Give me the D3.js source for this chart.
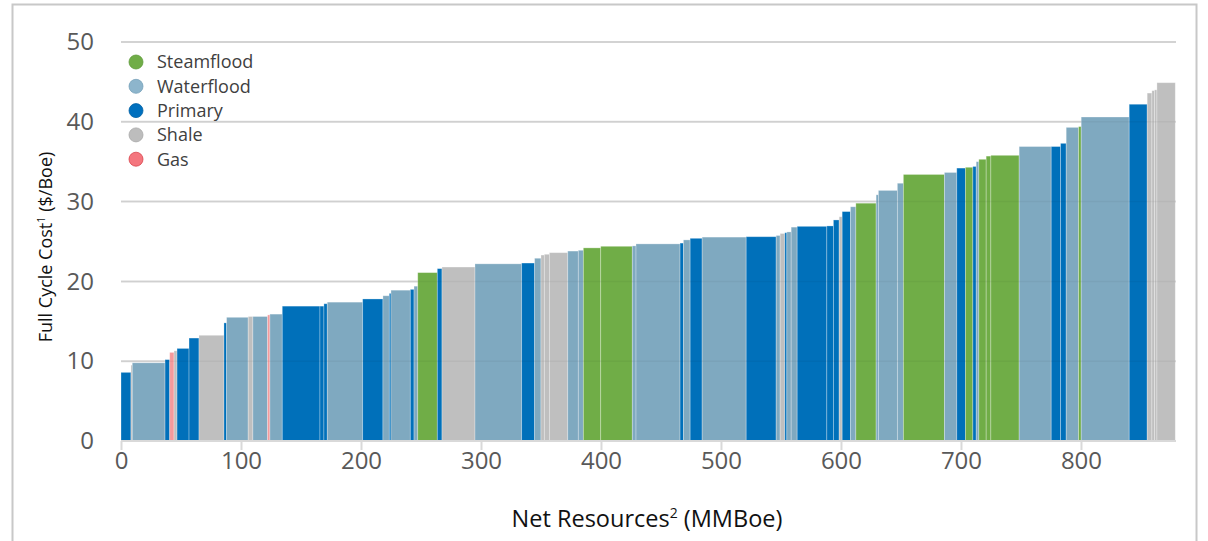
<!DOCTYPE html>
<html><head><meta charset="utf-8">
<script src="https://cdn.jsdelivr.net/npm/d3@7"></script>
<style>body{margin:0;background:#fff;} svg{display:block;font-family:"Open Sans",sans-serif;}</style>
</head><body>
<script>
const types = ["Primary","Shale","Waterflood","Primary","Gas","Shale","Primary","Primary","Shale","Primary",
"Waterflood","Shale","Waterflood","Gas","Waterflood","Primary","Primary","Primary","Waterflood","Primary",
"Waterflood","Primary","Waterflood","Primary","Waterflood","Steamflood","Primary","Shale","Waterflood","Primary",
"Waterflood","Shale","Shale","Shale","Waterflood","Waterflood","Steamflood","Steamflood","Waterflood","Waterflood",
"Primary","Waterflood","Primary","Waterflood","Primary","Waterflood","Shale","Primary","Waterflood","Waterflood",
"Primary","Primary","Primary","Shale","Primary","Waterflood","Steamflood","Waterflood","Waterflood","Waterflood",
"Steamflood","Waterflood","Primary","Steamflood","Primary","Waterflood","Steamflood","Steamflood","Steamflood","Waterflood",
"Primary","Primary","Waterflood","Steamflood","Waterflood","Primary","Shale","Shale","Shale","Shale"];
const widths = [8.3,1.1,27.3,3.9,3.6,2.5,10.0,8.3,20.8,2.2,
18.0,3.9,12.3,1.9,10.3,31.4,3.3,2.8,29.5,16.9,
5.3,1.4,16.1,3.1,3.1,16.3,3.9,27.5,38.9,10.8,
5.3,2.8,4.2,15.3,8.8,4.2,14.5,26.3,3.1,36.7,
2.8,5.6,10.0,36.7,25.0,3.3,3.9,1.7,3.6,5.0,
24.7,5.5,4.8,2.5,6.9,4.5,16.9,1.9,15.8,5.0,
34.2,10.3,7.2,6.2,2.8,2.2,6.1,3.9,23.6,26.7,
7.8,4.7,10.3,2.2,40.0,15.0,3.9,2.2,2.0,15.3];
const costs = [8.6,9.5,9.8,10.2,11.1,11.3,11.6,12.9,13.25,14.8,
15.5,15.6,15.6,15.8,15.9,16.9,16.9,17.2,17.4,17.8,
18.2,18.5,18.9,19.0,19.4,21.1,21.6,21.8,22.2,22.3,
22.9,23.3,23.4,23.6,23.8,23.9,24.2,24.4,24.45,24.7,
24.8,25.2,25.4,25.55,25.6,25.75,26.0,26.1,26.2,26.8,
26.9,26.95,27.7,28.1,28.75,29.35,29.8,30.85,31.4,32.3,
33.4,33.65,34.2,34.3,34.4,35.0,35.3,35.7,35.8,36.9,
36.9,37.3,39.3,39.4,40.6,42.2,43.6,43.9,44.0,44.9];
const legendNames = ["Steamflood","Waterflood","Primary","Shale","Gas"];
const xTicks = [0,100,200,300,400,500,600,700,800];
const yTicks = [0,10,20,30,40,50];

const colors = {Steamflood:"#70AD47",Waterflood:"#7FA9C0",Primary:"#0070BA",Shale:"#BFBFBF",Gas:"#F59A9C"};
const legendColors = {Steamflood:"#70AD47",Waterflood:"#8DB5CC",Primary:"#0070BE",Shale:"#BDBDBD",Gas:"#F4767E"};
const legendStroke = {Steamflood:"#5E9A3A",Waterflood:"#7AA3BB",Primary:"#005FA3",Shale:"#A8A8A8",Gas:"#D9474F"};

const W=1208,H=541;
const svg=d3.select("body").append("svg").attr("width",W).attr("height",H);
svg.append("rect").attr("x",12.5).attr("y",4.5).attr("width",1184).attr("height",560)
  .attr("fill","none").attr("stroke","#C8C8C8").attr("stroke-width",2);

const x=d3.scaleLinear().domain([0,879.2]).range([121,1176]);
const y=d3.scaleLinear().domain([0,50]).range([441,42]);

// gridlines
svg.append("g").selectAll("line").data(yTicks.filter(d=>d>0)).join("line")
  .attr("x1",121).attr("x2",1176).attr("y1",d=>y(d)).attr("y2",d=>y(d))
  .attr("stroke","#D9D9D9").attr("stroke-width",2);

const starts=[];let acc=0;widths.forEach(w=>{starts.push(acc);acc+=w;});
const bars=types.map((t,i)=>({t,s:starts[i],w:widths[i],c:costs[i]}));
svg.append("g").selectAll("rect").data(bars).join("rect")
  .attr("x",d=>x(d.s)).attr("width",d=>x(d.s+d.w)-x(d.s))
  .attr("y",d=>y(d.c)).attr("height",d=>y(0)-y(d.c))
  .attr("fill",d=>colors[d.t]).attr("stroke","rgba(255,255,255,0.35)").attr("stroke-width",0.8);

// faint gridlines through bars
svg.append("g").selectAll("line").data(yTicks.filter(d=>d>0)).join("line")
  .attr("x1",121).attr("x2",1176).attr("y1",d=>y(d)).attr("y2",d=>y(d))
  .attr("stroke","#000").attr("stroke-opacity",0.04).attr("stroke-width",1.5);

// x axis
const xa=svg.append("g").attr("transform","translate(0,441)")
  .call(d3.axisBottom(x).tickValues(xTicks).tickSize(9).tickPadding(2).tickFormat(d3.format("d")));
xa.select(".domain").attr("stroke","#D9D9D9").attr("stroke-width",2).attr("d","M121,0H1176");
xa.selectAll(".tick line").attr("stroke","#D9D9D9").attr("stroke-width",2);
xa.selectAll(".tick text").attr("fill","#595959").style("font-size","24px").style("font-family","Open Sans");

// y axis labels
const ya=svg.append("g").attr("transform","translate(121,0)")
  .call(d3.axisLeft(y).tickValues(yTicks).tickSize(0).tickPadding(27));
ya.select(".domain").remove();
ya.selectAll(".tick text").attr("fill","#595959").style("font-size","24px").style("font-family","Open Sans");

// axis titles
const yt=svg.append("text").attr("transform","translate(52,247) rotate(-90)").attr("text-anchor","middle")
  .attr("fill","#111").style("font-size","18px");
yt.append("tspan").text("Full Cycle Cost");
yt.append("tspan").text("1").style("font-size","11px").attr("dy",-7);
yt.append("tspan").text(" ($/Boe)").attr("dy",7);

const xt=svg.append("text").attr("x",647).attr("y",527).attr("text-anchor","middle")
  .attr("fill","#111").style("font-size","23.5px");
xt.append("tspan").text("Net Resources");
xt.append("tspan").text("2").style("font-size","14px").attr("dy",-9);
xt.append("tspan").text(" (MMBoe)").attr("dy",9);

// legend
const lg=svg.append("g").selectAll("g").data(legendNames).join("g")
  .attr("transform",(d,i)=>`translate(136,${62+i*24.3})`);
lg.append("circle").attr("r",7).attr("fill",d=>legendColors[d]).attr("stroke",d=>legendStroke[d]).attr("stroke-width",0.8);
lg.append("text").attr("x",21).attr("dy","0.35em").text(d=>d).attr("fill","#404040").style("font-size","18px");
</script>
</body></html>
